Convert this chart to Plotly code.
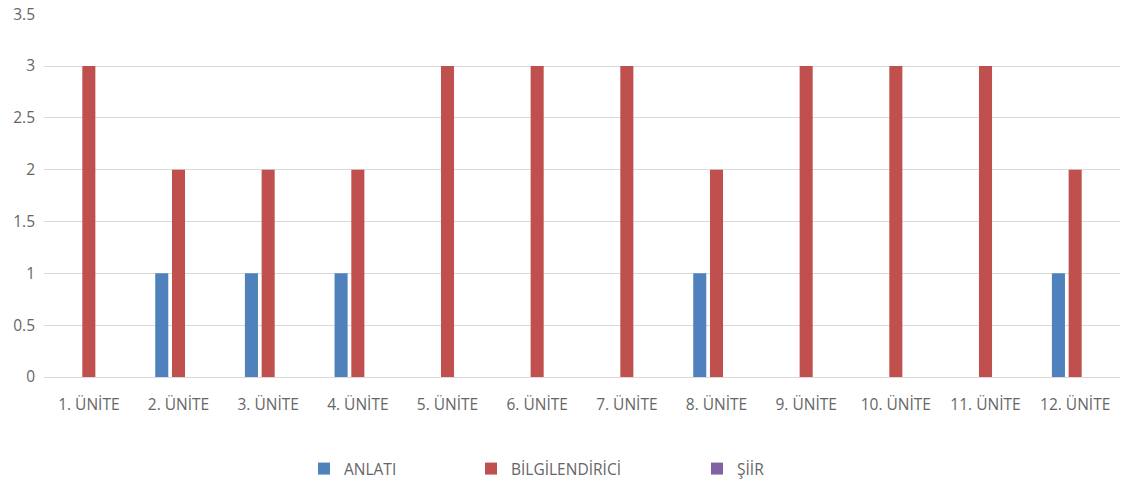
import plotly.graph_objects as go

categories = ["1. ÜNİTE", "2. ÜNİTE", "3. ÜNİTE", "4. ÜNİTE", "5. ÜNİTE", "6. ÜNİTE",
              "7. ÜNİTE", "8. ÜNİTE", "9. ÜNİTE", "10. ÜNİTE", "11. ÜNİTE", "12. ÜNİTE"]
anlati = [0, 1, 1, 1, 0, 0, 0, 1, 0, 0, 0, 1]
bilgilendirici = [3, 2, 2, 2, 3, 3, 3, 2, 3, 3, 3, 2]
siir = [0, 0, 0, 0, 0, 0, 0, 0, 0, 0, 0, 0]
y_ticks = [0, 0.5, 1, 1.5, 2, 2.5, 3, 3.5]

series = [("ANLATI", anlati, "#4F81BD", "legend"),
          ("BİLGİLENDİRİCİ", bilgilendirici, "#C0504D", "legend2"),
          ("ŞİİR", siir, "#8064A2", "legend3")]

FONT = "Open Sans"
FS = 15.5
TXT = "#666666"

fig = go.Figure()
for name, vals, color, lg in series:
    fig.add_trace(go.Bar(x=categories, y=vals, name=name, marker_color=color,
                         marker_line_width=0, legend=lg, showlegend=True))

L, R, T, B = 43.5, 7, 14, 106
W, H = 1127, 483

def cy(py):
    return (H - py) / H

def cx(px):
    return px / W

legend_common = dict(orientation="h", xanchor="left", yanchor="top",
                     xref="container", yref="container",
                     font=dict(family=FONT, size=FS, color=TXT),
                     bgcolor="rgba(0,0,0,0)", itemwidth=30)

fig.update_layout(
    width=W, height=H,
    showlegend=True,
    margin=dict(l=L, r=R, t=T, b=B, pad=0, autoexpand=False),
    paper_bgcolor="white", plot_bgcolor="white",
    barmode="group", bargap=0.44, bargroupgap=0.22,
    font=dict(family=FONT, size=FS, color=TXT),
    xaxis=dict(showgrid=False, showline=True, linecolor="#D9D9D9", linewidth=1,
               ticks="", tickfont=dict(family=FONT, size=FS, color=TXT),
               ticklabelstandoff=13),
    yaxis=dict(range=[0, 3.502], tickvals=y_ticks, showgrid=True, gridcolor="#D9D9D9",
               gridwidth=1, zeroline=False, showline=False, ticks="",
               tickfont=dict(family=FONT, size=FS, color=TXT),
               ticklabelstandoff=8),
    legend=dict(x=cx(304), y=cy(452), **legend_common),
    legend2=dict(x=cx(471), y=cy(452), **legend_common),
    legend3=dict(x=cx(697), y=cy(452), **legend_common),
)

fig.write_html("out.html")
